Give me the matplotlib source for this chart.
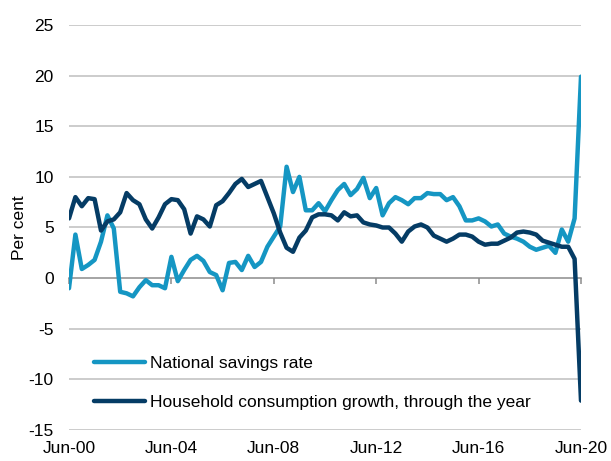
import matplotlib
matplotlib.use("Agg")
import matplotlib.pyplot as plt
import numpy as np

plt.rcParams['font.family'] = ['Liberation Sans', 'DejaVu Sans']

# Quarterly observations, Jun-00 .. Jun-20
quarters = np.arange(81)
savings = [-1.0, 4.3, 0.9, 1.3, 1.8, 3.6, 6.2, 4.9, -1.35, -1.5,
           -1.8, -0.9, -0.2, -0.7, -0.7, -1.0, 2.1, -0.3, 0.8, 1.8,
           2.2, 1.7, 0.6, 0.3, -1.2, 1.5, 1.6, 0.8, 2.2, 1.1,
           1.6, 3.1, 4.1, 5.1, 11.0, 8.5, 10.0, 6.7, 6.7, 7.4,
           6.6, 7.7, 8.7, 9.3, 8.2, 8.8, 9.9, 7.9, 8.9, 6.2,
           7.4, 8.0, 7.7, 7.3, 7.9, 7.9, 8.4, 8.3, 8.3, 7.7,
           8.0, 7.1, 5.7, 5.7, 5.9, 5.6, 5.1, 5.3, 4.4, 4.1,
           3.9, 3.6, 3.1, 2.8, 3.0, 3.2, 2.5, 4.8, 3.6, 5.9,
           19.9]
consumption = [5.9, 8.0, 7.1, 7.9, 7.8, 4.7, 5.6, 5.8, 6.5, 8.4,
               7.7, 7.3, 5.8, 4.9, 6.0, 7.3, 7.8, 7.7, 6.8, 4.4,
               6.1, 5.8, 5.1, 7.2, 7.6, 8.4, 9.3, 9.8, 9.0, 9.3,
               9.6, 8.0, 6.4, 4.5, 3.0, 2.6, 4.0, 4.7, 6.0, 6.3,
               6.3, 6.2, 5.7, 6.5, 6.1, 6.2, 5.5, 5.3, 5.2, 5.0,
               5.0, 4.4, 3.6, 4.6, 5.1, 5.3, 5.0, 4.2, 3.9, 3.6,
               3.9, 4.3, 4.3, 4.1, 3.6, 3.3, 3.4, 3.4, 3.7, 4.0,
               4.5, 4.6, 4.5, 4.3, 3.7, 3.5, 3.3, 3.1, 3.1, 1.9,
               -12.1]
xtick_pos = [0, 16, 32, 48, 64, 80]
xtick_labels = ['Jun-00', 'Jun-04', 'Jun-08', 'Jun-12', 'Jun-16', 'Jun-20']
yticks = [-15, -10, -5, 0, 5, 10, 15, 20, 25]
series_names = ['National savings rate', 'Household consumption growth, through the year']

LIGHT = '#1596C3'
DARK = '#053C65'
FS = 12.5

fig = plt.figure(figsize=(6.11, 4.61), dpi=100)
ax = fig.add_axes([69/611, 1-430/461, (581-69)/611, (430-25)/461])

for y in yticks:
    if y != 0:
        ax.axhline(y, color='#BFBFBF', lw=1.1, zorder=1)

ax.plot(quarters, savings, color=LIGHT, lw=3.2, solid_joinstyle='round',
        solid_capstyle='round', label=series_names[0], zorder=3)
ax.plot(quarters, consumption, color=DARK, lw=3.2, solid_joinstyle='round',
        solid_capstyle='round', label=series_names[1], zorder=4)

ax.set_xlim(0, 80)
ax.set_ylim(-15, 25)
ax.set_yticks(yticks)
ax.set_yticklabels([str(v) for v in yticks])
ax.tick_params(axis='y', length=0, pad=11, labelsize=FS, colors='black')

for s in ['top', 'right', 'left']:
    ax.spines[s].set_visible(False)
ax.spines['bottom'].set_position(('data', 0))
ax.spines['bottom'].set_color('#8C8C8C')
ax.spines['bottom'].set_linewidth(1.1)
ax.spines['bottom'].set_zorder(2)
ax.set_xticks(xtick_pos)
ax.tick_params(axis='x', direction='out', length=4, width=1.1, color='#8C8C8C',
               labelbottom=False)

sec = ax.secondary_xaxis('bottom')
sec.set_xticks(xtick_pos)
sec.set_xticklabels(xtick_labels)
sec.tick_params(length=0, pad=8, labelsize=FS)
sec.spines['bottom'].set_visible(False)

ax.set_ylabel('Per cent', fontsize=FS, labelpad=1)

leg = ax.legend(loc='upper left', bbox_to_anchor=(25/512, (430-356)/405),
                frameon=False, fontsize=FS, handlelength=2.95, handletextpad=0.25,
                labelspacing=1.35, borderpad=0, borderaxespad=0)

fig.savefig('out.png', dpi=100)
